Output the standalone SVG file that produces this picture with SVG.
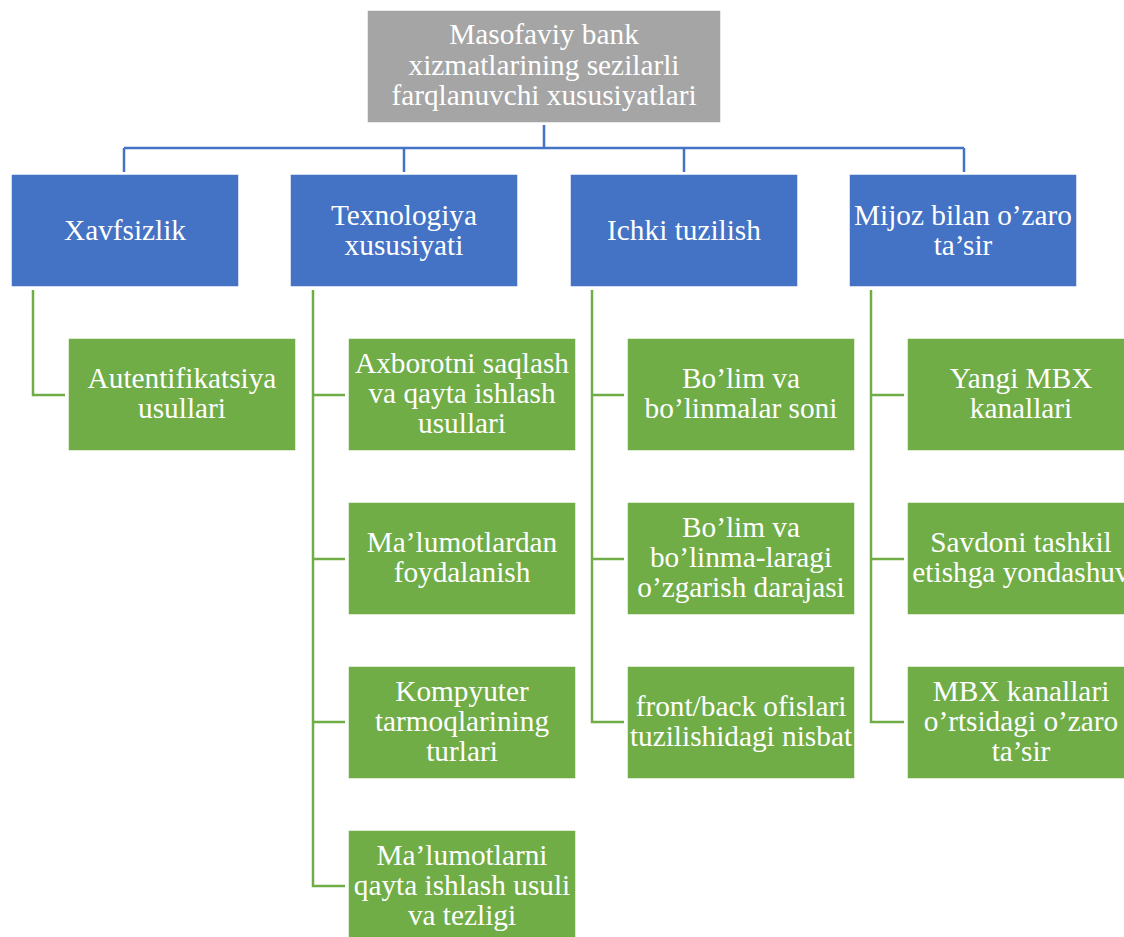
<svg xmlns="http://www.w3.org/2000/svg" width="1124" height="937" viewBox="0 0 1124 937" font-family="Liberation Serif">
<style>
.t{font-size:29.3px;fill:#fff;text-anchor:middle}
.g{fill:#a5a5a5;stroke:#fff;stroke-width:1.5}
.b{fill:#4472c4;stroke:#fff;stroke-width:1.5}
.n{fill:#70ad47;stroke:#fff;stroke-width:1.5}
.cb{fill:none;stroke:#4472c4;stroke-width:2.5}
.cg{fill:none;stroke:#70ad47;stroke-width:2.5}
</style>
<rect width="1124" height="937" fill="#fff"/>
<g id="connectors">
<path class="cb" d="M544 125V148M124 148H964M124 148V172M404 148V172M684 148V172M964 148V172"/>
<path class="cg" d="M33 290V395H65"/>
<path class="cg" d="M313 290V886H345M313 395H345M313 559H345M313 722H345"/>
<path class="cg" d="M592 290V722H624M592 395H624M592 559H624"/>
<path class="cg" d="M871 290V722H904M871 395H904M871 559H904"/>
</g>
<g id="root"><rect class="g" x="367" y="10" width="354" height="113"/>
<text class="t" x="544" y="44">Masofaviy bank</text><text class="t" x="544" y="75">xizmatlarining sezilarli</text><text class="t" x="544" y="105">farqlanuvchi xususiyatlari</text></g>
<g id="xavfsizlik"><rect class="b" x="11" y="174" width="228" height="113"/><text class="t" x="125" y="240">Xavfsizlik</text></g>
<g id="texnologiya"><rect class="b" x="290" y="174" width="228" height="113"/><text class="t" x="404" y="225">Texnologiya</text><text class="t" x="404" y="255">xususiyati</text></g>
<g id="ichki"><rect class="b" x="570" y="174" width="228" height="113"/><text class="t" x="684" y="240">Ichki tuzilish</text></g>
<g id="mijoz"><rect class="b" x="849" y="174" width="228" height="113"/><text class="t" x="963" y="225">Mijoz bilan o’zaro</text><text class="t" x="963" y="255">ta’sir</text></g>
<g id="autentifikatsiya"><rect class="n" x="68" y="338" width="228" height="113"/><text class="t" x="182" y="388">Autentifikatsiya</text><text class="t" x="182" y="418">usullari</text></g>
<g id="axborot"><rect class="n" x="348" y="338" width="228" height="113"/><text class="t" x="462" y="373">Axborotni saqlash</text><text class="t" x="462" y="403">va qayta ishlash</text><text class="t" x="462" y="433">usullari</text></g>
<g id="foydalanish"><rect class="n" x="348" y="502" width="228" height="113"/><text class="t" x="462" y="552">Ma’lumotlardan</text><text class="t" x="462" y="582">foydalanish</text></g>
<g id="kompyuter"><rect class="n" x="348" y="666" width="228" height="113"/><text class="t" x="462" y="701">Kompyuter</text><text class="t" x="462" y="731">tarmoqlarining</text><text class="t" x="462" y="761">turlari</text></g>
<g id="qayta"><rect class="n" x="348" y="830" width="228" height="113"/><text class="t" x="462" y="865">Ma’lumotlarni</text><text class="t" x="462" y="895">qayta ishlash usuli</text><text class="t" x="462" y="925">va tezligi</text></g>
<g id="bolim1"><rect class="n" x="627" y="338" width="228" height="113"/><text class="t" x="741" y="388">Bo’lim va</text><text class="t" x="741" y="418">bo’linmalar soni</text></g>
<g id="bolim2"><rect class="n" x="627" y="502" width="228" height="113"/><text class="t" x="741" y="537">Bo’lim va</text><text class="t" x="741" y="567">bo’linma-laragi</text><text class="t" x="741" y="597">o’zgarish darajasi</text></g>
<g id="front"><rect class="n" x="627" y="666" width="228" height="113"/><text class="t" x="741" y="716">front/back ofislari</text><text class="t" x="741" y="746">tuzilishidagi nisbat</text></g>
<g id="yangi"><rect class="n" x="907" y="338" width="228" height="113"/><text class="t" x="1021" y="388">Yangi MBX</text><text class="t" x="1021" y="418">kanallari</text></g>
<g id="savdo"><rect class="n" x="907" y="502" width="228" height="113"/><text class="t" x="1021" y="552">Savdoni tashkil</text><text class="t" x="1021" y="582">etishga yondashuv</text></g>
<g id="mbx"><rect class="n" x="907" y="666" width="228" height="113"/><text class="t" x="1021" y="701">MBX kanallari</text><text class="t" x="1021" y="731">o’rtsidagi o’zaro</text><text class="t" x="1021" y="761">ta’sir</text></g>
</svg>
